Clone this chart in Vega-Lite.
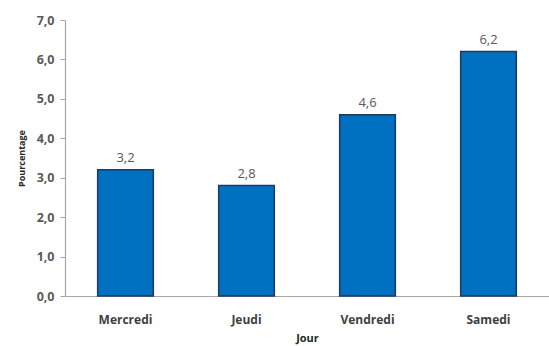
{
  "$schema": "https://vega.github.io/schema/vega-lite/v6.json",
  "width": 484,
  "height": 276,
  "autosize": {"type": "none"},
  "padding": {"left": 65, "top": 20, "right": 0, "bottom": 50},
  "background": "white",
  "config": {
    "view": {"stroke": null},
    "locale": {"number": {"decimal": ",", "thousands": " ", "grouping": [3], "currency": ["", " €"]}},
    "font": "Open Sans"
  },
  "data": {
    "values": [
      {"jour": "Mercredi", "pct": 3.2},
      {"jour": "Jeudi", "pct": 2.8},
      {"jour": "Vendredi", "pct": 4.6},
      {"jour": "Samedi", "pct": 6.2}
    ]
  },
  "encoding": {
    "x": {
      "field": "jour", "type": "nominal", "sort": null,
      "scale": {"paddingInner": 0.54, "paddingOuter": 0.27},
      "axis": {
        "title": "Jour", "titleFont": "Open Sans", "titleFontSize": 11, "titleFontWeight": "bold", "titleColor": "#262626", "titlePadding": 7,
        "labelAngle": 0, "labelFont": "Open Sans", "labelFontSize": 12, "labelFontWeight": "bold", "labelColor": "#404040", "labelPadding": 18,
        "ticks": false, "domainColor": "#a6a6a6", "domainWidth": 1.2
      }
    },
    "y": {
      "field": "pct", "type": "quantitative",
      "scale": {"domain": [0, 7], "nice": false},
      "axis": {
        "title": "Pourcentage", "titleFont": "Open Sans", "titleFontSize": 9, "titleFontWeight": "bold", "titleColor": "#262626", "titlePadding": 10,
        "values": [0, 1, 2, 3, 4, 5, 6, 7], "format": ".1f",
        "labelFont": "Open Sans", "labelFontSize": 12.5, "labelFontWeight": "bold", "labelColor": "#595959", "labelPadding": 6,
        "grid": false, "tickColor": "#a6a6a6", "tickSize": 5, "domainColor": "#a6a6a6", "domainWidth": 1.2
      }
    }
  },
  "layer": [
    {"mark": {"type": "bar", "color": "#0070C0", "stroke": "#1F3864", "strokeWidth": 1.5}},
    {
      "mark": {"type": "text", "baseline": "bottom", "dy": -5, "font": "Open Sans", "fontSize": 13, "color": "#595959"},
      "encoding": {"text": {"field": "pct", "type": "quantitative", "format": ".1f"}}
    }
  ]
}
